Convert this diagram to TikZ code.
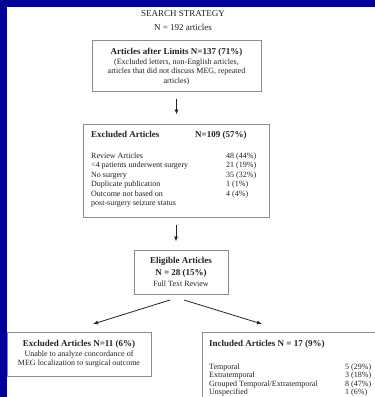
\documentclass[tikz,border=0pt]{standalone}
\usepackage{fontspec}
\setmainfont{Liberation Serif}
\usetikzlibrary{arrows.meta}
\definecolor{bgblue}{HTML}{000099}
\definecolor{boxgray}{HTML}{8C8C8C}
\definecolor{ink}{HTML}{222222}
\begin{document}
\begin{tikzpicture}[x=1pt,y=-1pt,
  boxnode/.style={draw=boxgray,line width=1pt,inner sep=0pt,fill=white},
  big/.style={inner sep=0pt,text=ink,font=\fontsize{9}{10}\selectfont},
  bigb/.style={inner sep=0pt,text=ink,font=\fontsize{9}{10}\selectfont\bfseries},
  small/.style={inner sep=0pt,text=ink,font=\fontsize{8}{9}\selectfont},
  arr/.style={draw=ink,line width=0.8pt,-{Latex[length=5pt,width=4pt]}}]
\useasboundingbox (0,0) rectangle (375,397);
\fill[bgblue] (0,0) rectangle (375,397);
\fill[white] (7,7) rectangle (375,397);
\begin{scope}
\clip (0,0) rectangle (375,397);
% boxes
\node[boxnode,minimum width=169pt,minimum height=51pt] (b1) at (176.5,65.5) {};
\node[boxnode,minimum width=186pt,minimum height=93pt] (b2) at (176,170.5) {};
\node[boxnode,minimum width=94pt,minimum height=44pt] (b3) at (181,272) {};
\node[boxnode,minimum width=144pt,minimum height=44pt] (b4) at (79,354) {};
\node[boxnode,minimum width=188pt,minimum height=78pt] (b5) at (296,371) {};
% heading
\node[big,anchor=base] (hd) at (183,16) {SEARCH STRATEGY};
\node[big,anchor=base] (hn) at (183,30) {N = 192 articles};
% box 1
\node[bigb,anchor=base] (b1h) at (176.5,54) {Articles after Limits N=137 (71\%)};
\node[small,anchor=base] (b1a) at (176.5,64.5) {(Excluded letters, non-English articles,};
\node[small,anchor=base] (b1b) at (176.5,73.5) {articles that did not discuss MEG, repeated};
\node[small,anchor=base] (b1c) at (176.5,83) {articles)};
% box 2
\node[bigb,anchor=base west] (b2h) at (91,137) {Excluded Articles};
\node[bigb,anchor=base west] (b2n) at (195,137) {N=109 (57\%)};
\node[small,anchor=base west] (r1) at (91,158) {Review Articles};
\node[small,anchor=base west] (r2) at (91,167.5) {<4 patients underwent surgery};
\node[small,anchor=base west] (r3) at (91,177) {No surgery};
\node[small,anchor=base west] (r4) at (91,186.5) {Duplicate publication};
\node[small,anchor=base west] (r5) at (91,196) {Outcome not based on};
\node[small,anchor=base west] (r6) at (91,205.5) {post-surgery seizure status};
\node[small,anchor=base west] (v1) at (226,158) {48 (44\%)};
\node[small,anchor=base west] (v2) at (226,167.5) {21 (19\%)};
\node[small,anchor=base west] (v3) at (226,177) {35 (32\%)};
\node[small,anchor=base west] (v4) at (226,186.5) {1 (1\%)};
\node[small,anchor=base west] (v5) at (226,196) {4 (4\%)};
% box 3
\node[bigb,anchor=base] (b3a) at (181,263) {Eligible Articles};
\node[bigb,anchor=base] (b3b) at (181,275) {N = 28 (15\%)};
\node[small,anchor=base] (b3c) at (181,286) {Full Text Review};
% box 4
\node[bigb,anchor=base] (b4a) at (79,346) {Excluded Articles N=11 (6\%)};
\node[small,anchor=base] (b4b) at (79,356) {Unable to analyze concordance of};
\node[small,anchor=base] (b4c) at (79,365) {MEG localization to surgical outcome};
% box 5
\node[bigb,anchor=base west] (b5h) at (209,346) {Included Articles N = 17 (9\%)};
\node[small,anchor=base west] (s1) at (209,369) {Temporal};
\node[small,anchor=base west] (s2) at (209,377.5) {Extratemporal};
\node[small,anchor=base west] (s3) at (209,386) {Grouped Temporal/Extratemporal};
\node[small,anchor=base west] (s4) at (209,394.5) {Unspecified};
\node[small,anchor=base west] (w1) at (345,369) {5 (29\%)};
\node[small,anchor=base west] (w2) at (345,377.5) {3 (18\%)};
\node[small,anchor=base west] (w3) at (345,386) {8 (47\%)};
\node[small,anchor=base west] (w4) at (345,394.5) {1 (6\%)};
\end{scope}
% arrows
\draw[arr,shorten <=7pt,shorten >=9pt] (b1.south) -- (b1.south |- b2.north);
\draw[arr,shorten <=7pt,shorten >=8pt] (b2.south) -- (b2.south |- b3.north);
\coordinate (l0) at (170,300);
\coordinate (l1) at (93,324);
\coordinate (r0) at (184,300);
\coordinate (r1) at (262,324);
\draw[arr] (l0) -- (l1);
\draw[arr] (r0) -- (r1);
\end{tikzpicture}
\end{document}
